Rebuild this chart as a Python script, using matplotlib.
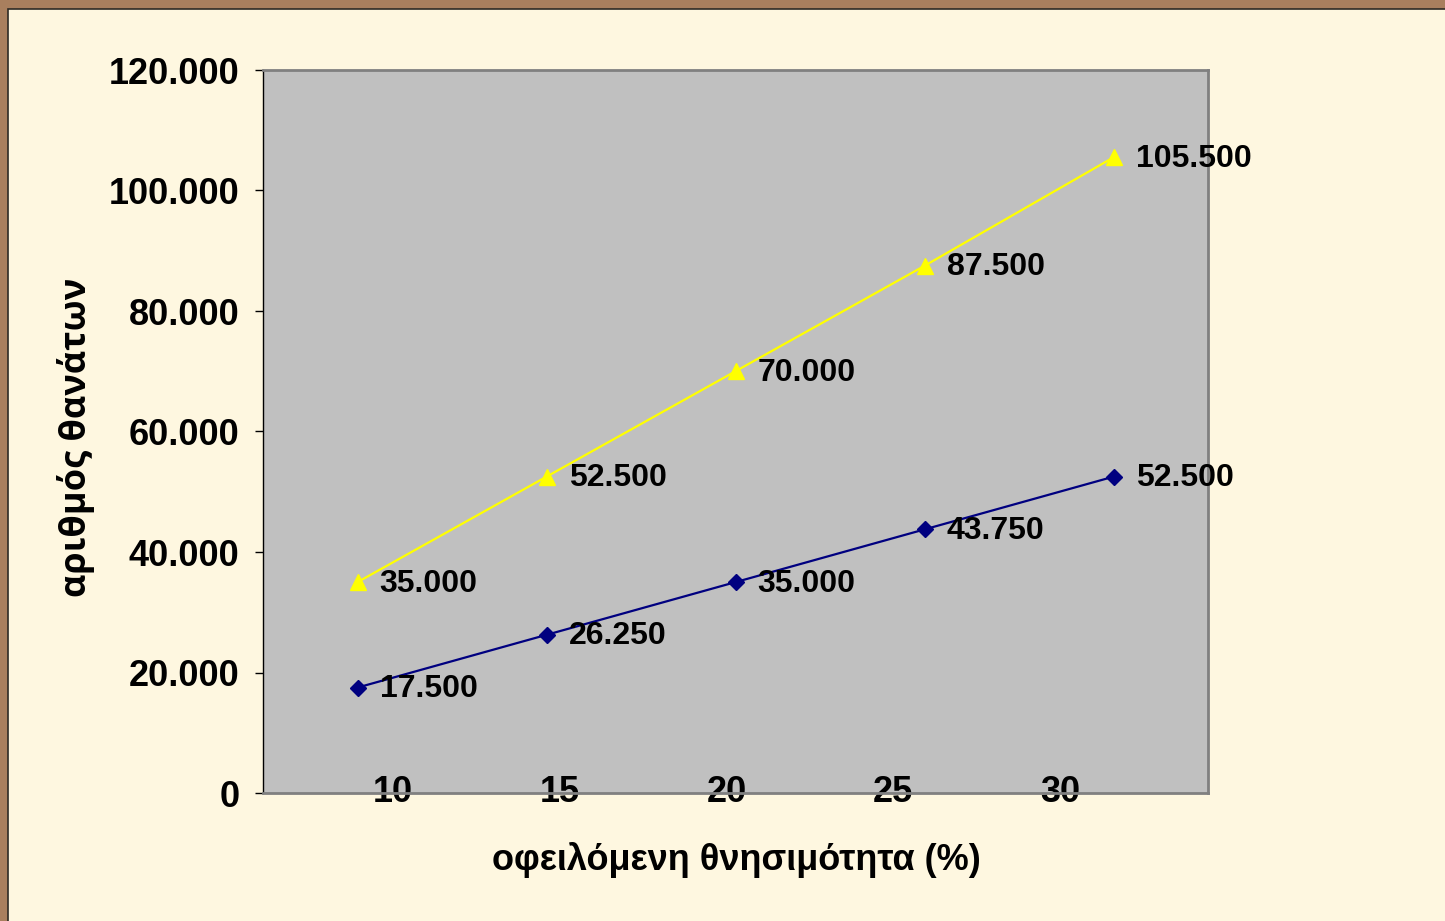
import matplotlib.pyplot as plt
import matplotlib.patches as patches
from matplotlib.ticker import FuncFormatter
import numpy as np

# Δεδομένα
categories = ['10', '15', '20', '25', '30']
upper_series = [35000, 52500, 70000, 87500, 105500]
lower_series = [17500, 26250, 35000, 43750, 52500]
y_ticks = [0, 20000, 40000, 60000, 80000, 100000, 120000]


def greek_thousands(v, pos=None):
    return f"{v:,.0f}".replace(",", ".")


fig = plt.figure(figsize=(14.45, 9.21), dpi=100)
W, H = 1445, 921

# πλαίσιο διαφάνειας
fig.patches.append(patches.Rectangle((0, 0), 1, 1, transform=fig.transFigure,
                                     facecolor='#A97F5E', edgecolor='none', zorder=-3))
fig.patches.append(patches.Rectangle((8 / W, -0.1), 1.2, 1.1 - 9 / H, transform=fig.transFigure,
                                     facecolor='#FEF7E0', edgecolor='#2E2A25', linewidth=1.2, zorder=-2))

ax = fig.add_axes([263 / W, 1 - 793 / H, (1208 - 263) / W, (793 - 70) / H])
ax.set_facecolor('#C0C0C0')

x = np.arange(len(categories))
ax.plot(x, lower_series, color='#000080', linewidth=1.6, marker='D', markersize=8,
        markerfacecolor='#000080', markeredgecolor='#000080', zorder=3)
ax.plot(x, upper_series, color='#FFFF00', linewidth=1.6, marker='^', markersize=12,
        markerfacecolor='#FFFF00', markeredgecolor='#FFFF00', zorder=3)

label_font = dict(family=['Liberation Sans', 'DejaVu Sans'], weight='bold', size=23)
for xi, v in zip(x, upper_series):
    ax.annotate(greek_thousands(v), (xi, v), xytext=(16, -1), textcoords='offset points',
                va='center', ha='left', color='black', clip_on=False, **label_font)
for xi, v in zip(x, lower_series):
    ax.annotate(greek_thousands(v), (xi, v), xytext=(16, -1), textcoords='offset points',
                va='center', ha='left', color='black', clip_on=False, **label_font)

ax.set_xlim(-0.5, 4.5)
ax.set_ylim(0, 120000)
ax.set_yticks(y_ticks)
ax.yaxis.set_major_formatter(FuncFormatter(greek_thousands))

# ετικέτες άξονα x (όπως στο πρωτότυπο, μετατοπισμένες)
ax.set_xticks(np.linspace(0.188, 3.717, len(categories)))
ax.set_xticklabels(categories)
ax.tick_params(axis='x', length=0, pad=-13)
ax.tick_params(axis='y', length=6, width=1, color='black', pad=11)
for lab in ax.get_xticklabels() + ax.get_yticklabels():
    lab.set_fontfamily(['Liberation Sans', 'DejaVu Sans'])
    lab.set_fontweight('bold')
    lab.set_fontsize(26)

for side in ['top', 'right', 'bottom']:
    ax.spines[side].set_color('#808080')
    ax.spines[side].set_linewidth(2)
ax.spines['left'].set_color('black')
ax.spines['left'].set_linewidth(1)

fig.text(736 / W, 1 - 860 / H, 'οφειλόμενη θνησιμότητα (%)', ha='center', va='center',
         family=['Liberation Sans', 'DejaVu Sans'], weight='bold', size=26)
fig.text(76 / W, 1 - 437 / H, 'αριθμός θανάτων', ha='center', va='center', rotation=90,
         family=['Open Sans', 'DejaVu Sans'], weight='bold', size=26)

fig.savefig('out.png', dpi=100)
